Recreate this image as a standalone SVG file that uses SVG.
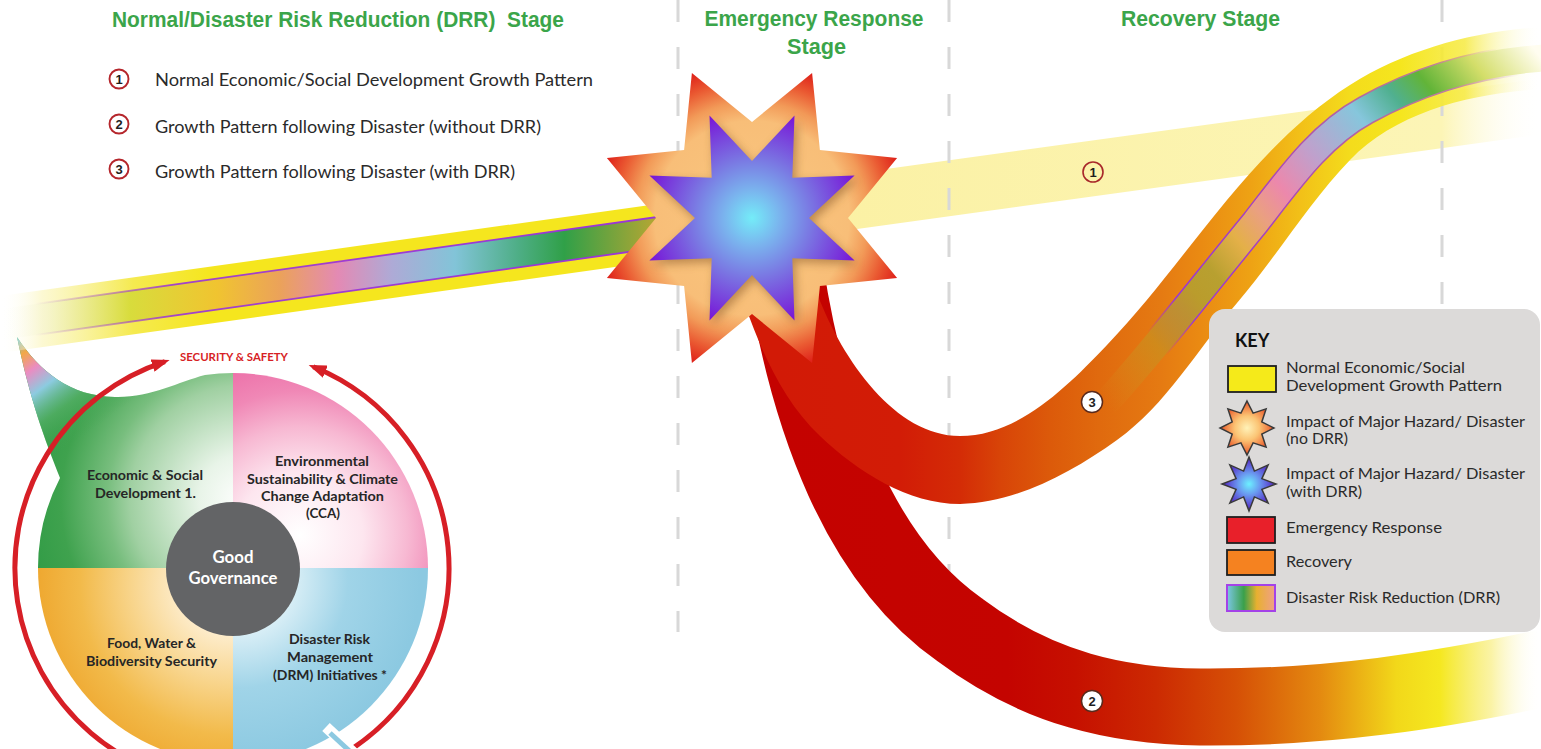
<svg xmlns="http://www.w3.org/2000/svg" width="1541" height="749" viewBox="0 0 1541 749">
<defs>
<style>
.title{font-family:"Liberation Sans Narrow","Liberation Sans",Arial,sans-serif;font-weight:bold;font-size:22px;fill:#3ba54a;text-anchor:middle}
.leg{font-family:Lato,"Liberation Sans",Arial,sans-serif;font-size:17px;fill:#2a2a2a}
.num{font-family:"Liberation Sans",Arial,sans-serif;font-weight:bold;font-size:13px;fill:#1e1e1e;text-anchor:middle}
.lc{fill:#fff;stroke:#b5262c;stroke-width:1.9}
.rc{fill:#fff;stroke:#5a2a1c;stroke-width:1.5}
.q{font-family:Lato,"Liberation Sans",Arial,sans-serif;font-weight:bold;font-size:13px;fill:#262626;text-anchor:middle}
.gov{font-family:Lato,"Liberation Sans",Arial,sans-serif;font-weight:bold;font-size:16.5px;fill:#ffffff;text-anchor:middle}
.key{font-family:Lato,"Liberation Sans",Arial,sans-serif;font-size:15px;fill:#2a2a2a}
.dash{stroke:#d8d8d8;stroke-width:3;stroke-dasharray:22 25;fill:none}
.ks{stroke:#3a3a3a;stroke-width:1.5}
.kr{stroke:#1e1e1e;stroke-width:1.8}
.ring{fill:none;stroke:#d71f26;stroke-width:5;marker-end:url(#arr)}
</style>
<marker id="arr" viewBox="0 0 18 13" refX="13" refY="6.5" markerWidth="18" markerHeight="13" markerUnits="userSpaceOnUse" orient="auto">
<path d="M0,0 L18,6.5 L0,13 Z" fill="#d71f26"/>
</marker>
<filter id="blur" x="-30%" y="-30%" width="160%" height="160%"><feGaussianBlur stdDeviation="5"/></filter>
<linearGradient id="gPale" gradientUnits="userSpaceOnUse" x1="830" y1="0" x2="1541" y2="0">
<stop offset="0" stop-color="#fbf1a4"/>
<stop offset="0.86" stop-color="#fcf5b6"/>
<stop offset="1" stop-color="#ffffff" stop-opacity="0"/>
</linearGradient>
<linearGradient id="gLeftY" gradientUnits="userSpaceOnUse" x1="0" y1="0" x2="700" y2="0">
<stop offset="0" stop-color="#ffffff" stop-opacity="0"/>
<stop offset="0.06" stop-color="#fbf6c0" stop-opacity="0.7"/>
<stop offset="0.19" stop-color="#f5ea50"/>
<stop offset="0.3" stop-color="#f5e61e"/>
<stop offset="1" stop-color="#f5e61e"/>
</linearGradient>
<linearGradient id="gLeftD" gradientUnits="userSpaceOnUse" x1="0" y1="0" x2="700" y2="0">
<stop offset="0" stop-color="#ffffff" stop-opacity="0"/>
<stop offset="0.07" stop-color="#f2f2c8" stop-opacity="0.6"/>
<stop offset="0.186" stop-color="#d8dc3c"/>
<stop offset="0.31" stop-color="#f0c430"/>
<stop offset="0.4" stop-color="#eba25a"/>
<stop offset="0.483" stop-color="#e38ab4"/>
<stop offset="0.56" stop-color="#aeaad6"/>
<stop offset="0.65" stop-color="#82c4d8"/>
<stop offset="0.74" stop-color="#4eae86"/>
<stop offset="0.806" stop-color="#30a048"/>
<stop offset="0.93" stop-color="#aea634"/>
<stop offset="1" stop-color="#c0a030"/>
</linearGradient>
<linearGradient id="gLeftP" gradientUnits="userSpaceOnUse" x1="0" y1="0" x2="700" y2="0">
<stop offset="0.05" stop-color="#9a34d8" stop-opacity="0"/>
<stop offset="0.25" stop-color="#9a34d8" stop-opacity="0.9"/>
<stop offset="1" stop-color="#9a34d8"/>
</linearGradient>
<linearGradient id="gR2" gradientUnits="userSpaceOnUse" x1="780" y1="0" x2="1541" y2="0">
<stop offset="0" stop-color="#c40200"/>
<stop offset="0.3" stop-color="#c40400"/>
<stop offset="0.388" stop-color="#c61000"/>
<stop offset="0.494" stop-color="#cc2a02"/>
<stop offset="0.6" stop-color="#d65006"/>
<stop offset="0.71" stop-color="#e48a10"/>
<stop offset="0.81" stop-color="#f2d81a"/>
<stop offset="0.867" stop-color="#f5e820"/>
<stop offset="0.935" stop-color="#f9f090" stop-opacity="0.8"/>
<stop offset="1" stop-color="#ffffff" stop-opacity="0"/>
</linearGradient>
<linearGradient id="gR3" gradientUnits="userSpaceOnUse" x1="780" y1="0" x2="1541" y2="0">
<stop offset="0" stop-color="#d21a06"/>
<stop offset="0.158" stop-color="#d21c06"/>
<stop offset="0.237" stop-color="#d42c06"/>
<stop offset="0.289" stop-color="#d84408"/>
<stop offset="0.355" stop-color="#dc5a0a"/>
<stop offset="0.42" stop-color="#e06a0e"/>
<stop offset="0.5" stop-color="#e57a12"/>
<stop offset="0.552" stop-color="#ea8a12"/>
<stop offset="0.618" stop-color="#eea214"/>
<stop offset="0.683" stop-color="#f2c018"/>
<stop offset="0.749" stop-color="#f4dc1c"/>
<stop offset="0.815" stop-color="#f5e61e"/>
<stop offset="0.9" stop-color="#f6ea40" stop-opacity="0.85"/>
<stop offset="1" stop-color="#ffffff" stop-opacity="0"/>
</linearGradient>
<linearGradient id="gD3" gradientUnits="userSpaceOnUse" x1="1105" y1="404" x2="1541" y2="58">
<stop offset="0" stop-color="#d88a1c" stop-opacity="0"/>
<stop offset="0.15" stop-color="#c8901e" stop-opacity="0.8"/>
<stop offset="0.25" stop-color="#ba9c2c"/>
<stop offset="0.3" stop-color="#b8a030"/>
<stop offset="0.37" stop-color="#e4b048"/>
<stop offset="0.43" stop-color="#eaa080"/>
<stop offset="0.49" stop-color="#ec88ac"/>
<stop offset="0.57" stop-color="#c0a0cc"/>
<stop offset="0.68" stop-color="#86c6dc"/>
<stop offset="0.75" stop-color="#50b090"/>
<stop offset="0.81" stop-color="#62b438"/>
<stop offset="0.9" stop-color="#d4de6a"/>
<stop offset="1" stop-color="#fffdf0"/>
</linearGradient>
<linearGradient id="gP3" gradientUnits="userSpaceOnUse" x1="1105" y1="404" x2="1541" y2="58">
<stop offset="0.14" stop-color="#9a34d8" stop-opacity="0"/>
<stop offset="0.22" stop-color="#9a34d8"/>
<stop offset="0.84" stop-color="#9a34d8" stop-opacity="0.6"/>
<stop offset="0.95" stop-color="#9a34d8" stop-opacity="0"/>
</linearGradient>
<radialGradient id="gStarO" gradientUnits="userSpaceOnUse" cx="752" cy="218" r="157">
<stop offset="0" stop-color="#f9c880"/>
<stop offset="0.62" stop-color="#f8be78"/>
<stop offset="0.74" stop-color="#f29a58"/>
<stop offset="0.87" stop-color="#ea5a32"/>
<stop offset="1" stop-color="#de1e18"/>
</radialGradient>
<radialGradient id="gStarI" gradientUnits="userSpaceOnUse" cx="752" cy="218" r="111">
<stop offset="0" stop-color="#74ecf8"/>
<stop offset="0.25" stop-color="#7ab4ee"/>
<stop offset="0.55" stop-color="#7a74e2"/>
<stop offset="1" stop-color="#7812d6"/>
</radialGradient>
<radialGradient id="gKS1">
<stop offset="0" stop-color="#fff2b8"/>
<stop offset="0.45" stop-color="#fbc474"/>
<stop offset="0.8" stop-color="#f07c42"/>
<stop offset="1" stop-color="#e04422"/>
</radialGradient>
<radialGradient id="gKS2">
<stop offset="0" stop-color="#6cf0ff"/>
<stop offset="0.4" stop-color="#6a9af0"/>
<stop offset="0.8" stop-color="#5a44d0"/>
<stop offset="1" stop-color="#4a22b0"/>
</radialGradient>
<linearGradient id="gKD" x1="0" y1="0" x2="1" y2="0">
<stop offset="0" stop-color="#7cc6e6"/>
<stop offset="0.35" stop-color="#3aa04a"/>
<stop offset="0.62" stop-color="#e8b030"/>
<stop offset="1" stop-color="#f0a088"/>
</linearGradient>
<radialGradient id="gGreen" gradientUnits="userSpaceOnUse" cx="245" cy="500" r="230">
<stop offset="0" stop-color="#ffffff"/>
<stop offset="0.2" stop-color="#e8f4e8"/>
<stop offset="0.5" stop-color="#a0d0a2"/>
<stop offset="0.6" stop-color="#78be7e"/>
<stop offset="0.8" stop-color="#3fa24e"/>
<stop offset="1" stop-color="#2e9a44"/>
</radialGradient>
<radialGradient id="gPink" gradientUnits="userSpaceOnUse" cx="300" cy="535" r="180">
<stop offset="0" stop-color="#ffffff"/>
<stop offset="0.35" stop-color="#fde6ef"/>
<stop offset="0.6" stop-color="#f7b8d2"/>
<stop offset="0.8" stop-color="#f088b6"/>
<stop offset="1" stop-color="#ec6fa8"/>
</radialGradient>
<radialGradient id="gOrange" gradientUnits="userSpaceOnUse" cx="230" cy="585" r="200">
<stop offset="0" stop-color="#fffaf0"/>
<stop offset="0.25" stop-color="#fdeccb"/>
<stop offset="0.5" stop-color="#f8d48a"/>
<stop offset="0.75" stop-color="#f2ba4a"/>
<stop offset="1" stop-color="#eea52c"/>
</radialGradient>
<radialGradient id="gBlue" gradientUnits="userSpaceOnUse" cx="240" cy="580" r="180">
<stop offset="0" stop-color="#ffffff"/>
<stop offset="0.3" stop-color="#d8eef6"/>
<stop offset="0.6" stop-color="#a0d4e8"/>
<stop offset="1" stop-color="#8cc9e1"/>
</radialGradient>
<linearGradient id="gTip" gradientUnits="userSpaceOnUse" x1="17" y1="337" x2="100" y2="450">
<stop offset="0" stop-color="#5cc8e8"/>
<stop offset="0.12" stop-color="#f2a846"/>
<stop offset="0.25" stop-color="#ea8cc2"/>
<stop offset="0.4" stop-color="#8ccbe0"/>
<stop offset="0.6" stop-color="#5cb46e" stop-opacity="0.6"/>
<stop offset="0.85" stop-color="#3fa24e" stop-opacity="0"/>
</linearGradient>
</defs>

<rect x="0" y="0" width="1541" height="749" fill="#ffffff"/>

<!-- Pie / circle diagram -->
<g id="pie">
<path d="M233,568 L38,568 A195,195 0 0 1 60,478 C45,440 30,400 17,337 C40,372 70,396 115,397 C150,398 178,382 205,375 A195,195 0 0 1 233,373 Z" fill="url(#gGreen)"/>
<path d="M60,478 C45,440 30,400 17,337 C40,372 70,396 115,397 C150,398 178,382 205,375 A195,195 0 0 0 60,478 Z" fill="url(#gTip)"/>
<path d="M233,568 L233,373 A195,195 0 0 1 428,568 Z" fill="url(#gPink)"/>
<path d="M233,568 L38,568 A195,195 0 0 0 233,763 Z" fill="url(#gOrange)"/>
<path d="M233,568 L428,568 A195,195 0 0 1 233,763 Z" fill="url(#gBlue)"/>
<circle cx="233" cy="569" r="67" fill="#636466"/>
<text class="gov" x="233" y="563" textLength="41" lengthAdjust="spacingAndGlyphs">Good</text>
<text class="gov" x="233" y="584" textLength="89" lengthAdjust="spacingAndGlyphs">Governance</text>
<text class="q" x="145" y="480" textLength="116" lengthAdjust="spacingAndGlyphs">Economic &amp; Social</text>
<text class="q" x="145.5" y="498" textLength="101" lengthAdjust="spacingAndGlyphs">Development 1.</text>
<text class="q" x="322" y="466" textLength="94" lengthAdjust="spacingAndGlyphs">Environmental</text>
<text class="q" x="322.5" y="484" textLength="151" lengthAdjust="spacingAndGlyphs">Sustainability &amp; Climate</text>
<text class="q" x="322.5" y="501" textLength="123" lengthAdjust="spacingAndGlyphs">Change Adaptation</text>
<text class="q" x="323" y="518" textLength="34" lengthAdjust="spacingAndGlyphs">(CCA)</text>
<text class="q" x="151.5" y="648" textLength="89" lengthAdjust="spacingAndGlyphs">Food, Water &amp;</text>
<text class="q" x="151.5" y="666" textLength="131" lengthAdjust="spacingAndGlyphs">Biodiversity Security</text>
<text class="q" x="329.5" y="644" textLength="81" lengthAdjust="spacingAndGlyphs">Disaster Risk</text>
<text class="q" x="330" y="662" textLength="86" lengthAdjust="spacingAndGlyphs">Management</text>
<text class="q" x="330" y="680" textLength="114" lengthAdjust="spacingAndGlyphs">(DRM) Initiatives *</text>
</g>

<g id="security-ring">
<path class="ring" d="M232,785 A217,217 0 0 1 164.9,361.6"/>
<path class="ring" d="M350.2,750 A217,217 0 0 0 313.3,366.8"/>
<line x1="326" y1="727" x2="356" y2="755" stroke="#ffffff" stroke-width="11"/>
<line x1="330" y1="733" x2="356" y2="757" stroke="#8cc9e1" stroke-width="5"/>
<text x="234" y="361" font-family="Lato,'Liberation Sans',Arial,sans-serif" font-weight="bold" font-size="10.5" fill="#d71f26" text-anchor="middle" textLength="108" lengthAdjust="spacingAndGlyphs">SECURITY &amp; SAFETY</text>
</g>

<!-- pale normal growth band (1) -->
<g id="band-normal-after">
<path d="M830,176.7 L1545,78 L1545,134 L830,232.7 Z" fill="url(#gPale)"/>
</g>

<!-- stage dividers -->
<g id="dividers">
<line class="dash" x1="678" y1="0" x2="678" y2="632"/>
<line class="dash" x1="949" y1="0" x2="949" y2="632"/>
<line class="dash" x1="1442" y1="0" x2="1442" y2="632"/>
</g>

<!-- pre-disaster band -->
<g id="band-normal-before">
<path d="M-5,296.7 L700,198 L700,255 L-5,353.7 Z" fill="url(#gLeftY)"/>
<path d="M-5,309.7 L700,211 L700,242 L-5,340.7 Z" fill="url(#gLeftD)"/>
<path d="M-5,309.7 L700,211 M-5,340.7 L700,242" stroke="url(#gLeftP)" stroke-width="1.8" fill="none"/>
</g>

<!-- connectors / growth ribbons -->
<g id="connectors">
<path id="ribbon2" d="M785,270 C808,420 860,560 960,630 C1040,690 1120,706 1200,707 C1330,708 1440,690 1545,668" fill="none" stroke="url(#gR2)" stroke-width="77"/>
<path id="ribbon3" d="M818,296 C843,360 895,436 960,436 C1018,436 1067,387 1107,345 C1150.5,299.6 1186.7,248.5 1227,200 C1262.8,156.9 1303,114.7 1350,85 C1407,49 1477,30.4 1545,27 L1545,89 C1476,92.5 1397.6,110.3 1350,160 C1307.9,203.9 1276.7,256.6 1237,303 C1197.4,349.4 1166.4,404.6 1117,440 C1070.8,473 1017,502.3 960,504 C908,504 858,472 820,436 C783.5,401.5 761.5,352 745,305 Z" fill="url(#gR3)"/>
<path d="M1105,404 C1150,355 1200,290 1255,223 C1290,178 1320,135 1366,110 C1420,80 1480,62 1545,58" fill="none" stroke="url(#gP3)" stroke-width="30"/>
<path d="M1105,404 C1150,355 1200,290 1255,223 C1290,178 1320,135 1366,110 C1420,80 1480,62 1545,58" fill="none" stroke="url(#gD3)" stroke-width="27"/>
</g>

<!-- disaster impact star -->
<g id="impact-star">
<polygon points="691.9,72.9 752,122 812.1,72.9 819.9,150.1 897.1,157.9 848,218 897.1,278.1 819.9,285.9 812.1,363.1 752,314 691.9,363.1 684.1,285.9 606.9,278.1 656,218 606.9,157.9 684.1,150.1" fill="url(#gStarO)"/>
<polygon points="709.5,115.4 752,161 794.5,115.4 792.3,177.7 854.6,175.5 809,218 854.6,260.5 792.3,258.3 794.5,320.6 752,275 709.5,320.6 711.7,258.3 649.4,260.5 695,218 649.4,175.5 711.7,177.7" fill="#8a5a2a" opacity="0.55" filter="url(#blur)" transform="translate(3,4)"/>
<polygon points="709.5,115.4 752,161 794.5,115.4 792.3,177.7 854.6,175.5 809,218 854.6,260.5 792.3,258.3 794.5,320.6 752,275 709.5,320.6 711.7,258.3 649.4,260.5 695,218 649.4,175.5 711.7,177.7" fill="url(#gStarI)"/>
</g>

<!-- ribbon labels -->
<g id="label-1">
<circle cx="1093" cy="172" r="10" fill="none" stroke="#a8282a" stroke-width="1.6"/>
<text class="num" x="1093" y="176.5">1</text>
</g>
<g id="label-3">
<circle class="rc" cx="1092" cy="402" r="10.5"/>
<text class="num" x="1092" y="406.5">3</text>
</g>
<g id="label-2">
<circle class="rc" cx="1092" cy="701" r="10.5"/>
<text class="num" x="1092" y="705.5">2</text>
</g>

<!-- stage titles -->
<g id="titles">
<text class="title" x="338" y="27" textLength="452" lengthAdjust="spacingAndGlyphs" xml:space="preserve">Normal/Disaster Risk Reduction (DRR)  Stage</text>
<text class="title" x="814" y="26" textLength="219" lengthAdjust="spacingAndGlyphs">Emergency Response</text>
<text class="title" x="816.5" y="54" textLength="59" lengthAdjust="spacingAndGlyphs">Stage</text>
<text class="title" x="1200.5" y="26" textLength="159" lengthAdjust="spacingAndGlyphs">Recovery Stage</text>
</g>

<!-- pattern legend -->
<g id="legend">
<circle class="lc" cx="119" cy="79" r="9.5"/>
<text class="num" x="119" y="83.5">1</text>
<text class="leg" x="155" y="86" textLength="438" lengthAdjust="spacingAndGlyphs">Normal Economic/Social Development Growth Pattern</text>
<circle class="lc" cx="119" cy="124" r="9.5"/>
<text class="num" x="119" y="128.5">2</text>
<text class="leg" x="155" y="133" textLength="386" lengthAdjust="spacingAndGlyphs">Growth Pattern following Disaster (without DRR)</text>
<circle class="lc" cx="119" cy="169" r="9.5"/>
<text class="num" x="119" y="173.5">3</text>
<text class="leg" x="155" y="178" textLength="360" lengthAdjust="spacingAndGlyphs">Growth Pattern following Disaster (with DRR)</text>
</g>

<!-- key -->
<g id="key">
<rect x="1209" y="309" width="331" height="323" rx="16" fill="#dcdad9"/>
<text x="1235" y="347" font-family="Lato,'Liberation Sans',Arial,sans-serif" font-weight="bold" font-size="18" fill="#111">KEY</text>
<rect class="kr" x="1228" y="366" width="48" height="26" fill="#f5ea1a"/>
<text class="key" x="1286" y="373" textLength="179" lengthAdjust="spacingAndGlyphs">Normal Economic/Social</text>
<text class="key" x="1286" y="391" textLength="216" lengthAdjust="spacingAndGlyphs">Development Growth Pattern</text>
<polygon class="ks" fill="url(#gKS1)" points="1247,401 1253.1,413.2 1266.1,408.9 1261.8,421.9 1274,428 1261.8,434.1 1266.1,447.1 1253.1,442.8 1247,455 1240.9,442.8 1227.9,447.1 1232.2,434.1 1220,428 1232.2,421.9 1227.9,408.9 1240.9,413.2"/>
<text class="key" x="1286" y="427" textLength="239" lengthAdjust="spacingAndGlyphs">Impact of Major Hazard/ Disaster</text>
<text class="key" x="1286" y="444" textLength="62" lengthAdjust="spacingAndGlyphs">(no DRR)</text>
<polygon class="ks" fill="url(#gKS2)" points="1249,457 1254.4,471.1 1268.1,464.9 1261.9,478.6 1276,484 1261.9,489.4 1268.1,503.1 1254.4,496.9 1249,511 1243.6,496.9 1229.9,503.1 1236.1,489.4 1222,484 1236.1,478.6 1229.9,464.9 1243.6,471.1"/>
<text class="key" x="1286" y="479" textLength="239" lengthAdjust="spacingAndGlyphs">Impact of Major Hazard/ Disaster</text>
<text class="key" x="1286" y="497" textLength="76" lengthAdjust="spacingAndGlyphs">(with DRR)</text>
<rect class="kr" x="1227" y="517" width="48" height="26" fill="#e8202a"/>
<text class="key" x="1286" y="533" textLength="156" lengthAdjust="spacingAndGlyphs">Emergency Response</text>
<rect class="kr" x="1227" y="550" width="48" height="25" fill="#f58220"/>
<text class="key" x="1286" y="567" textLength="66" lengthAdjust="spacingAndGlyphs">Recovery</text>
<rect x="1227" y="585" width="48" height="26" fill="url(#gKD)" stroke="#a442e8" stroke-width="2"/>
<text class="key" x="1286" y="603" textLength="214" lengthAdjust="spacingAndGlyphs">Disaster Risk Reduction (DRR)</text>
</g>
</svg>
